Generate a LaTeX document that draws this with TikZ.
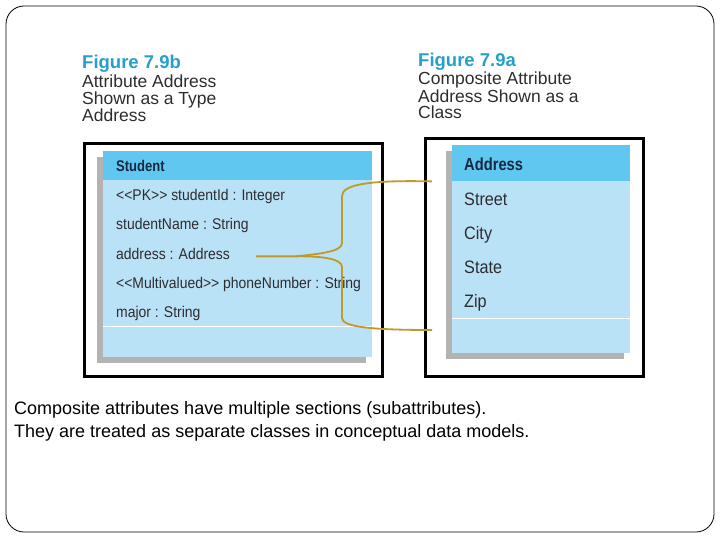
\documentclass[tikz,border=0pt]{standalone}
\usepackage{fontspec}
\setmainfont{Liberation Sans}
\newfontfamily\rowfont[FakeStretch=0.9]{Liberation Sans}
\newfontfamily\headfont[FakeStretch=0.84]{Liberation Sans}
\usepackage{xcolor}
\usepackage{tikz}
\usetikzlibrary{positioning,shadows}
\definecolor{figTeal}{RGB}{38,160,200}
\definecolor{headBlue}{RGB}{96,200,240}
\definecolor{bodyBlue}{RGB}{186,226,246}
\definecolor{braceGold}{RGB}{190,154,40}
\definecolor{rowGray}{RGB}{45,45,48}
\definecolor{headNavy}{RGB}{22,40,66}

\begin{document}
\begin{tikzpicture}[
  x=1pt, y=-1pt,
  caption/.style={anchor=north west, align=left, inner sep=0pt, text=rowGray,
                  font=\fontsize{17.5}{17}\selectfont},
  figlabel/.style={anchor=base west, inner sep=0pt, text=figTeal,
                  font=\fontsize{18.5}{17}\selectfont\bfseries},
  frame/.style={draw=black, line width=3pt, anchor=north west, inner sep=0pt},
  classbody/.style={fill=bodyBlue, anchor=north west, inner sep=0pt,
                  drop shadow={shadow xshift=-6pt, shadow yshift=-6pt, opacity=0.6}},
  classhead/.style={fill=headBlue, anchor=north west, inner sep=0pt},
  headtext/.style={anchor=base west, inner sep=0pt, text=headNavy},
  row/.style={anchor=base west, inner sep=0pt, text=rowGray},
  brace/.style={draw=braceGold, line width=1.8pt}
]
\useasboundingbox (0,0) rectangle (720,540);

% slide outline
\draw[rounded corners=18pt, line width=0.8pt] (6,6) rectangle (714,532);

% --- Figure 7.9b: address as a type ---
\node[figlabel] (capB) at (82,69) {Figure 7.9b};
\node[caption, below=1pt of capB.south west, anchor=north west] (capBtext)
  {Attribute Address\\Shown as a Type\\Address};

\node[frame, minimum width=298pt, minimum height=233pt] (stuFrame) at (83,142) {};
\node[classbody, minimum width=269pt, minimum height=206pt] (stuBody) at (103,151) {};
\node[classhead, minimum width=269pt, minimum height=29pt] (stuHead) at (103,151) {};
\draw[white, line width=1pt] (103,326) -- (372,326);

\node[headtext, font=\headfont\bfseries\fontsize{15.5}{16}\selectfont] (stuName) at (116,171.5) {Student};
\node[row, font=\rowfont\fontsize{15.5}{16}\selectfont] (attId) at (116,200.5) {<<PK>> studentId : Integer};
\node[row, font=\rowfont\fontsize{15.5}{16}\selectfont] (attName) at (116,229.5) {studentName : String};
\node[row, font=\rowfont\fontsize{15.5}{16}\selectfont] (attAddr) at (116,259) {address : Address};
\node[row, font=\rowfont\fontsize{15.5}{16}\selectfont] (attPhone) at (116,288) {<<Multivalued>> phoneNumber : String};
\node[row, font=\rowfont\fontsize{15.5}{16}\selectfont] (attMajor) at (116,317.5) {major : String};

% --- Figure 7.9a: address as a class ---
\node[figlabel] (capA) at (418,67) {Figure 7.9a};
\node[caption, below=1pt of capA.south west, anchor=north west] (capAtext)
  {Composite Attribute\\Address Shown as a\\Class};

\node[frame, minimum width=218pt, minimum height=238pt] (addrFrame) at (424,137) {};
\node[classbody, minimum width=178pt, minimum height=208pt] (addrBody) at (452,145) {};
\node[classhead, minimum width=178pt, minimum height=36pt] (addrHead) at (452,145) {};
\draw[white, line width=1pt] (452,318) -- (630,318);

\node[headtext, font=\headfont\bfseries\fontsize{17.5}{18}\selectfont] (addrName) at (464,170.5) {Address};
\node[row, font=\rowfont\fontsize{18}{18}\selectfont] (subStreet) at (464,205.5) {Street};
\node[row, font=\rowfont\fontsize{18}{18}\selectfont] (subCity) at (464,240) {City};
\node[row, font=\rowfont\fontsize{18}{18}\selectfont] (subState) at (464,273.5) {State};
\node[row, font=\rowfont\fontsize{18}{18}\selectfont] (subZip) at (464,307.5) {Zip};

% brace from the address attribute to the Address class
\coordinate (braceTip) at ([xshift=26pt]attAddr.mid east);
\coordinate (braceTop) at ([xshift=-20pt]addrHead.south west);
\coordinate (braceBot) at (432,330);
\draw[brace] (braceTop) .. controls (372,180) and (342,184) .. (342,196)
  -- (342,243) .. controls (342,252) and (318,254) .. ([xshift=40pt]braceTip)
  -- (braceTip);
\draw[brace] ([xshift=40pt]braceTip) .. controls (318,256) and (342,258) .. (342,267)
  -- (342,318) .. controls (342,327) and (372,330) .. (braceBot);

% summary text
\node[anchor=north west, align=left, inner sep=0pt, font=\fontsize{18}{23}\selectfont]
  (summary) at (14,401) {Composite attributes have multiple sections (subattributes).\\
  They are treated as separate classes in conceptual data models.};

\end{tikzpicture}
\end{document}
